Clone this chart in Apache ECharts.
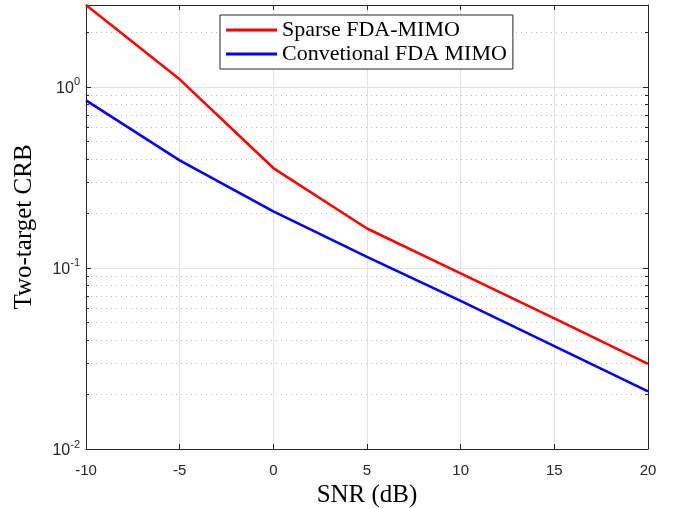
<!DOCTYPE html>
<html>
<head>
<meta charset="utf-8">
<script src="https://cdn.jsdelivr.net/npm/echarts@6/dist/echarts.min.js"></script>
<style>html,body{margin:0;padding:0;background:#fff;}#c{width:681px;height:508px;}</style>
</head>
<body>
<div id="c"></div>
<script>
const snr = [-10, -5, 0, 5, 10, 15, 20];
const sparseCRB = [2.83, 1.10, 0.356, 0.165, 0.0933, 0.0526, 0.0295];
const conventionalCRB = [0.841, 0.392, 0.205, 0.115, 0.0657, 0.037, 0.0208];
const seriesNames = ['Sparse FDA-MIMO', 'Convetional FDA MIMO'];
const xTicks = [-10, -5, 0, 5, 10, 15, 20];
const yMin = 0.01, yMax = 2.83;
const minorY = [0.02,0.03,0.04,0.05,0.06,0.07,0.08,0.09,0.2,0.3,0.4,0.5,0.6,0.7,0.8,0.9,2];

const axisColor = '#262626';
const gridColor = '#e3e3e3';
const chart = echarts.init(document.getElementById('c'), null, {renderer: 'canvas'});

function yFmt(v) {
  const l = Math.log10(v);
  const e = Math.round(l);
  if (Math.abs(l - e) > 1e-6) return '';
  return '{b|10}{s|' + e + '}';
}

chart.setOption({
  animation: false,
  backgroundColor: '#fff',
  grid: {left: 86, right: 33, top: 5, bottom: 59, containLabel: false, outerBoundsMode: 'none'},
  legend: {
    data: seriesNames,
    orient: 'vertical',
    left: 220, top: 15,
    padding: [4, 6, 4, 6],
    itemGap: 2,
    itemWidth: 51, itemHeight: 3,
    icon: 'rect',
    backgroundColor: '#fff',
    borderColor: axisColor, borderWidth: 1,
    textStyle: {fontFamily: 'Liberation Serif', fontSize: 22, color: '#000', lineHeight: 22}
  },
  xAxis: [{
    type: 'value', min: -10, max: 20, interval: 5,
    name: 'SNR (dB)', nameLocation: 'middle', nameGap: 32,
    nameTextStyle: {fontFamily: 'Liberation Serif', fontSize: 25, color: '#000'},
    axisLine: {show: true, onZero: false, lineStyle: {color: axisColor, width: 1}},
    axisTick: {show: true, inside: true, length: 5, lineStyle: {color: axisColor}},
    axisLabel: {margin: 14, fontFamily: 'Liberation Sans', fontSize: 15, color: axisColor,
      formatter: v => xTicks.includes(v) ? String(v) : ''},
    splitLine: {show: true, lineStyle: {color: gridColor, width: 1}}
  }, {
    type: 'value', min: -10, max: 20, interval: 5, position: 'top',
    axisLine: {show: true, onZero: false, lineStyle: {color: axisColor, width: 1}},
    axisTick: {show: true, inside: true, length: 5, lineStyle: {color: axisColor}},
    axisLabel: {show: false}, splitLine: {show: false}
  }],
  yAxis: [{
    type: 'log', logBase: 10, min: yMin, max: yMax,
    name: 'Two-target CRB', nameLocation: 'middle', nameGap: 49,
    nameTextStyle: {fontFamily: 'Liberation Serif', fontSize: 25, color: '#000'},
    axisLine: {show: true, onZero: false, lineStyle: {color: axisColor, width: 1}},
    axisTick: {show: true, inside: true, length: 5, lineStyle: {color: axisColor}},
    axisLabel: {margin: 6, formatter: yFmt,
      rich: {
        b: {fontFamily: 'Liberation Sans', fontSize: 16, color: axisColor, lineHeight: 20, verticalAlign: 'bottom'},
        s: {fontFamily: 'Liberation Sans', fontSize: 11, color: axisColor, lineHeight: 11, verticalAlign: 'top'}
      }},
    splitLine: {show: true, lineStyle: {color: gridColor, width: 1}}
  }, {
    type: 'log', logBase: 10, min: yMin, max: yMax, position: 'right',
    axisLine: {show: true, onZero: false, lineStyle: {color: axisColor, width: 1}},
    axisTick: {show: true, inside: true, length: 5, lineStyle: {color: axisColor}},
    axisLabel: {show: false}, splitLine: {show: false}
  }],
  series: [{
    type: 'custom',
    name: 'minor',
    xAxisIndex: 0, yAxisIndex: 0,
    z: 1, silent: true,
    data: minorY.map(v => [-10, v]),
    encode: {x: 0, y: 1},
    renderItem: function (params, api) {
      const v = api.value(1);
      const p1 = api.coord([-10, v]);
      const p2 = api.coord([20, v]);
      const y = Math.round(p1[1]) + 0.5;
      return {type: 'group', children: [
        {type: 'line', shape: {x1: p1[0], y1: y, x2: p2[0], y2: y},
          style: {stroke: '#bdbdbd', lineWidth: 1, lineDash: [1, 4]}},
        {type: 'line', shape: {x1: p1[0], y1: y, x2: p1[0] + 3, y2: y},
          style: {stroke: axisColor, lineWidth: 1}},
        {type: 'line', shape: {x1: p2[0] - 3, y1: y, x2: p2[0], y2: y},
          style: {stroke: axisColor, lineWidth: 1}}
      ]};
    }
  }, {
    type: 'line', name: seriesNames[0],
    data: snr.map((x, i) => [x, sparseCRB[i]]),
    symbol: 'none', smooth: false, z: 5,
    itemStyle: {color: '#ff0000'},
    lineStyle: {color: '#ff0000', width: 2.6}
  }, {
    type: 'line', name: seriesNames[1],
    data: snr.map((x, i) => [x, conventionalCRB[i]]),
    symbol: 'none', smooth: false, z: 5,
    itemStyle: {color: '#0000ff'},
    lineStyle: {color: '#0000ff', width: 2.6}
  }]
});
</script>
</body>
</html>
